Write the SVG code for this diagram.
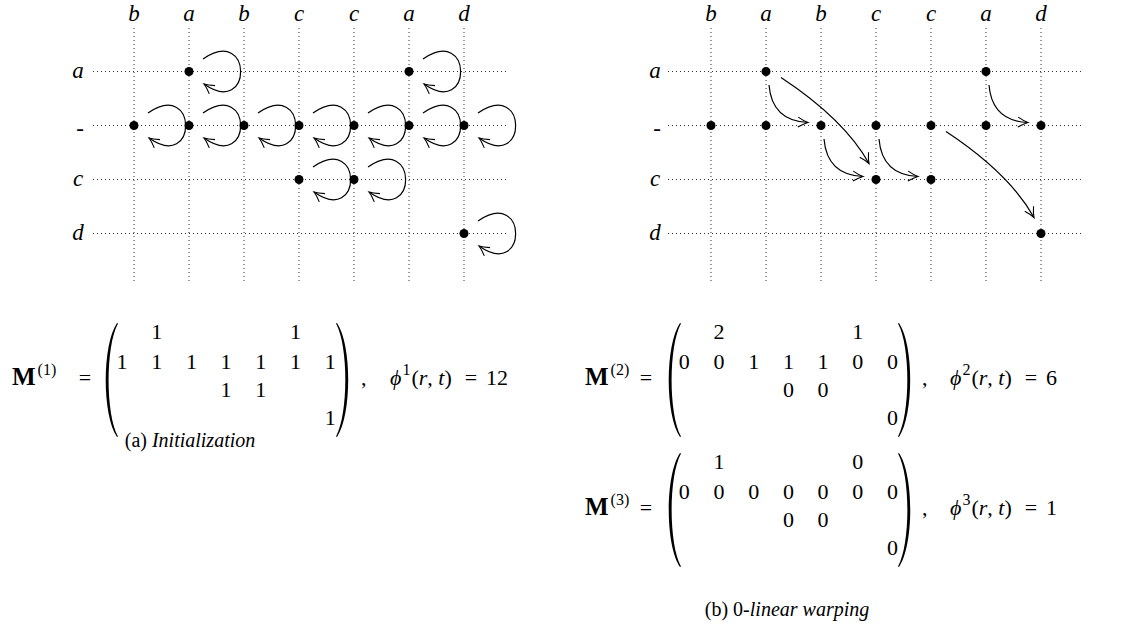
<svg xmlns="http://www.w3.org/2000/svg" xmlns:xlink="http://www.w3.org/1999/xlink" width="1147" height="626" viewBox="0 0 1147 626">
<style>
  .grid { stroke:#333; stroke-width:1; stroke-dasharray:1 3; fill:none; }
  .dot { fill:#000; }
  .edge { stroke:#000; stroke-width:1.2; fill:none; marker-end:url(#arr); }
  .lbl { font-family:"Liberation Serif","DejaVu Serif",serif; font-size:23px; font-style:italic; text-anchor:middle; fill:#000; }
  .m { font-family:"Liberation Serif","DejaVu Serif",serif; font-size:22px; fill:#000; }
  .mb { font-family:"Liberation Serif","DejaVu Serif",serif; font-size:25px; font-weight:bold; fill:#000; }
  .num { font-family:"Liberation Serif","DejaVu Serif",serif; font-size:22px; text-anchor:middle; fill:#000; }
  .it { font-style:italic; }
  .sup { font-size:16px; font-weight:normal; }
  .cap { font-family:"Liberation Serif","DejaVu Serif",serif; font-size:20px; text-anchor:middle; fill:#000; }
  .paren { fill:#000; }
</style>
<defs>
  <marker id="arr" markerUnits="userSpaceOnUse" viewBox="-12 -7 14 14" refX="0" refY="0" markerWidth="14" markerHeight="14" orient="auto">
    <path d="M-10,-5 Q-4,-1.2 0,0 Q-4,1.2 -10,5" stroke="#000" stroke-width="1.1" fill="none"/>
  </marker>
  <path id="loop" class="edge" d="M14,-12.5 C64,-47 64,47 15,12.5"/>
  <path id="ea" class="edge" d="M3,13.5 Q6,49.5 42,51"/>
  <path id="eb" class="edge" d="M15,6 Q78.6,48 103,92"/>
  <path id="lp" class="paren" d="M13,0 C-2,22 -2,92 13,114 L14,113.5 C1.5,91 1.5,23 14,0.5 Z"/>
</defs>

<!-- ===== Left grid (a) ===== -->
<g id="gridA">
  <g class="grid">
    <line x1="93" y1="71.5" x2="507" y2="71.5"/>
    <line x1="93" y1="125.5" x2="507" y2="125.5"/>
    <line x1="93" y1="179.5" x2="507" y2="179.5"/>
    <line x1="93" y1="233.5" x2="507" y2="233.5"/>
    <line x1="134" y1="28" x2="134" y2="282"/>
    <line x1="189" y1="28" x2="189" y2="282"/>
    <line x1="244" y1="28" x2="244" y2="282"/>
    <line x1="299" y1="28" x2="299" y2="282"/>
    <line x1="354" y1="28" x2="354" y2="282"/>
    <line x1="409" y1="28" x2="409" y2="282"/>
    <line x1="464" y1="28" x2="464" y2="282"/>
  </g>
  <g id="labelsA">
    <text class="lbl" x="134" y="21">b</text>
    <text class="lbl" x="189" y="21">a</text>
    <text class="lbl" x="244" y="21">b</text>
    <text class="lbl" x="299" y="21">c</text>
    <text class="lbl" x="354" y="21">c</text>
    <text class="lbl" x="409" y="21">a</text>
    <text class="lbl" x="464" y="21">d</text>
    <text class="lbl" x="78" y="77.5">a</text>
    <text class="lbl" x="80" y="136">-</text>
    <text class="lbl" x="78" y="185.5">c</text>
    <text class="lbl" x="78" y="239.5">d</text>
  </g>
</g>

<g id="nodesA">
  <circle id="A_a2" class="dot" cx="189" cy="71.5" r="4.5"/>
  <circle id="A_a6" class="dot" cx="409" cy="71.5" r="4.5"/>
  <circle id="A_g1" class="dot" cx="134" cy="125.5" r="4.5"/>
  <circle id="A_g2" class="dot" cx="189" cy="125.5" r="4.5"/>
  <circle id="A_g3" class="dot" cx="244" cy="125.5" r="4.5"/>
  <circle id="A_g4" class="dot" cx="299" cy="125.5" r="4.5"/>
  <circle id="A_g5" class="dot" cx="354" cy="125.5" r="4.5"/>
  <circle id="A_g6" class="dot" cx="409" cy="125.5" r="4.5"/>
  <circle id="A_g7" class="dot" cx="464" cy="125.5" r="4.5"/>
  <circle id="A_c4" class="dot" cx="299" cy="179.5" r="4.5"/>
  <circle id="A_c5" class="dot" cx="354" cy="179.5" r="4.5"/>
  <circle id="A_d7" class="dot" cx="464" cy="233.5" r="4.5"/>
</g>

<g id="connectorsA">
  <use xlink:href="#loop" href="#loop" transform="translate(189,71.5)"/>
  <use xlink:href="#loop" href="#loop" transform="translate(409,71.5)"/>
  <use xlink:href="#loop" href="#loop" transform="translate(134,125.5)"/>
  <use xlink:href="#loop" href="#loop" transform="translate(189,125.5)"/>
  <use xlink:href="#loop" href="#loop" transform="translate(244,125.5)"/>
  <use xlink:href="#loop" href="#loop" transform="translate(299,125.5)"/>
  <use xlink:href="#loop" href="#loop" transform="translate(354,125.5)"/>
  <use xlink:href="#loop" href="#loop" transform="translate(409,125.5)"/>
  <use xlink:href="#loop" href="#loop" transform="translate(464,125.5)"/>
  <use xlink:href="#loop" href="#loop" transform="translate(299,179.5)"/>
  <use xlink:href="#loop" href="#loop" transform="translate(354,179.5)"/>
  <use xlink:href="#loop" href="#loop" transform="translate(464,233.5)"/>
</g>

<!-- ===== Right grid (b) ===== -->
<g id="gridB">
  <g class="grid">
    <line x1="668" y1="71.5" x2="1083" y2="71.5"/>
    <line x1="668" y1="125.5" x2="1083" y2="125.5"/>
    <line x1="668" y1="179.5" x2="1083" y2="179.5"/>
    <line x1="668" y1="233.5" x2="1083" y2="233.5"/>
    <line x1="711" y1="28" x2="711" y2="282"/>
    <line x1="766" y1="28" x2="766" y2="282"/>
    <line x1="821" y1="28" x2="821" y2="282"/>
    <line x1="876" y1="28" x2="876" y2="282"/>
    <line x1="931" y1="28" x2="931" y2="282"/>
    <line x1="986" y1="28" x2="986" y2="282"/>
    <line x1="1041" y1="28" x2="1041" y2="282"/>
  </g>
  <g id="labelsB">
    <text class="lbl" x="711" y="21">b</text>
    <text class="lbl" x="766" y="21">a</text>
    <text class="lbl" x="821" y="21">b</text>
    <text class="lbl" x="876" y="21">c</text>
    <text class="lbl" x="931" y="21">c</text>
    <text class="lbl" x="986" y="21">a</text>
    <text class="lbl" x="1041" y="21">d</text>
    <text class="lbl" x="655" y="77.5">a</text>
    <text class="lbl" x="657" y="136">-</text>
    <text class="lbl" x="655" y="185.5">c</text>
    <text class="lbl" x="655" y="239.5">d</text>
  </g>
</g>

<g id="nodesB">
  <circle id="B_a2" class="dot" cx="766" cy="71.5" r="4.5"/>
  <circle id="B_a6" class="dot" cx="986" cy="71.5" r="4.5"/>
  <circle id="B_g1" class="dot" cx="711" cy="125.5" r="4.5"/>
  <circle id="B_g2" class="dot" cx="766" cy="125.5" r="4.5"/>
  <circle id="B_g3" class="dot" cx="821" cy="125.5" r="4.5"/>
  <circle id="B_g4" class="dot" cx="876" cy="125.5" r="4.5"/>
  <circle id="B_g5" class="dot" cx="931" cy="125.5" r="4.5"/>
  <circle id="B_g6" class="dot" cx="986" cy="125.5" r="4.5"/>
  <circle id="B_g7" class="dot" cx="1041" cy="125.5" r="4.5"/>
  <circle id="B_c4" class="dot" cx="876" cy="179.5" r="4.5"/>
  <circle id="B_c5" class="dot" cx="931" cy="179.5" r="4.5"/>
  <circle id="B_d7" class="dot" cx="1041" cy="233.5" r="4.5"/>
</g>

<g id="connectorsB">
  <use xlink:href="#ea" href="#ea" transform="translate(766,71.5)"/>
  <use xlink:href="#eb" href="#eb" transform="translate(766,71.5)"/>
  <use xlink:href="#ea" href="#ea" transform="translate(986,71.5)"/>
  <use xlink:href="#ea" href="#ea" transform="translate(821,125.5)"/>
  <use xlink:href="#ea" href="#ea" transform="translate(876,125.5)"/>
  <use xlink:href="#eb" href="#eb" transform="translate(931,125.5)"/>
</g>

<!-- ===== Matrix M(1) ===== -->
<g id="matrix1">
  <text class="mb" x="12" y="385">M<tspan class="sup" dx="2" dy="-10">(1)</tspan></text>
  <text class="num" x="85" y="385">=</text>
  <use xlink:href="#lp" href="#lp" transform="translate(104,323)"/>
  <use xlink:href="#lp" href="#lp" transform="translate(350,323) scale(-1,1)"/>
  <text class="num" x="156.7" y="339">1</text>
  <text class="num" x="295.5" y="339">1</text>
  <text class="num" x="122" y="369">1</text>
  <text class="num" x="156.7" y="369">1</text>
  <text class="num" x="191.4" y="369">1</text>
  <text class="num" x="226.1" y="369">1</text>
  <text class="num" x="260.8" y="369">1</text>
  <text class="num" x="295.5" y="369">1</text>
  <text class="num" x="330.2" y="369">1</text>
  <text class="num" x="226.1" y="397">1</text>
  <text class="num" x="260.8" y="397">1</text>
  <text class="num" x="330.2" y="425">1</text>
  <text class="m" x="361" y="385">,</text>
  <text class="m" x="390" y="385"><tspan class="it">ϕ</tspan><tspan class="sup" dx="1" dy="-10">1</tspan><tspan dx="1" dy="10">(</tspan><tspan class="it">r</tspan>, <tspan class="it">t</tspan>)</text>
  <text class="num" x="471" y="385">=</text>
  <text class="m" x="486" y="385">12</text>
  <text class="cap" x="190" y="447">(a) <tspan class="it">Initialization</tspan></text>
</g>

<!-- ===== Matrix M(2) ===== -->
<g id="matrix2">
  <text class="mb" x="585" y="385">M<tspan class="sup" dx="2" dy="-10">(2)</tspan></text>
  <text class="num" x="646" y="385">=</text>
  <use xlink:href="#lp" href="#lp" transform="translate(667,323)"/>
  <use xlink:href="#lp" href="#lp" transform="translate(912,323) scale(-1,1)"/>
  <text class="num" x="719" y="339">2</text>
  <text class="num" x="857.8" y="339">1</text>
  <text class="num" x="684.3" y="369">0</text>
  <text class="num" x="719" y="369">0</text>
  <text class="num" x="753.7" y="369">1</text>
  <text class="num" x="788.4" y="369">1</text>
  <text class="num" x="823.1" y="369">1</text>
  <text class="num" x="857.8" y="369">0</text>
  <text class="num" x="892.5" y="369">0</text>
  <text class="num" x="788.4" y="397">0</text>
  <text class="num" x="823.1" y="397">0</text>
  <text class="num" x="892.5" y="425">0</text>
  <text class="m" x="922" y="385">,</text>
  <text class="m" x="950" y="385"><tspan class="it">ϕ</tspan><tspan class="sup" dx="1" dy="-10">2</tspan><tspan dx="1" dy="10">(</tspan><tspan class="it">r</tspan>, <tspan class="it">t</tspan>)</text>
  <text class="num" x="1031" y="385">=</text>
  <text class="m" x="1046" y="385">6</text>
</g>

<!-- ===== Matrix M(3) ===== -->
<g id="matrix3">
  <text class="mb" x="585" y="515">M<tspan class="sup" dx="2" dy="-10">(3)</tspan></text>
  <text class="num" x="646" y="515">=</text>
  <use xlink:href="#lp" href="#lp" transform="translate(667,453)"/>
  <use xlink:href="#lp" href="#lp" transform="translate(912,453) scale(-1,1)"/>
  <text class="num" x="719" y="469">1</text>
  <text class="num" x="857.8" y="469">0</text>
  <text class="num" x="684.3" y="499">0</text>
  <text class="num" x="719" y="499">0</text>
  <text class="num" x="753.7" y="499">0</text>
  <text class="num" x="788.4" y="499">0</text>
  <text class="num" x="823.1" y="499">0</text>
  <text class="num" x="857.8" y="499">0</text>
  <text class="num" x="892.5" y="499">0</text>
  <text class="num" x="788.4" y="527">0</text>
  <text class="num" x="823.1" y="527">0</text>
  <text class="num" x="892.5" y="555">0</text>
  <text class="m" x="922" y="515">,</text>
  <text class="m" x="950" y="515"><tspan class="it">ϕ</tspan><tspan class="sup" dx="1" dy="-10">3</tspan><tspan dx="1" dy="10">(</tspan><tspan class="it">r</tspan>, <tspan class="it">t</tspan>)</text>
  <text class="num" x="1031" y="515">=</text>
  <text class="m" x="1046" y="515">1</text>
  <text class="cap" x="787" y="616">(b) 0-<tspan class="it">linear warping</tspan></text>
</g>
</svg>
